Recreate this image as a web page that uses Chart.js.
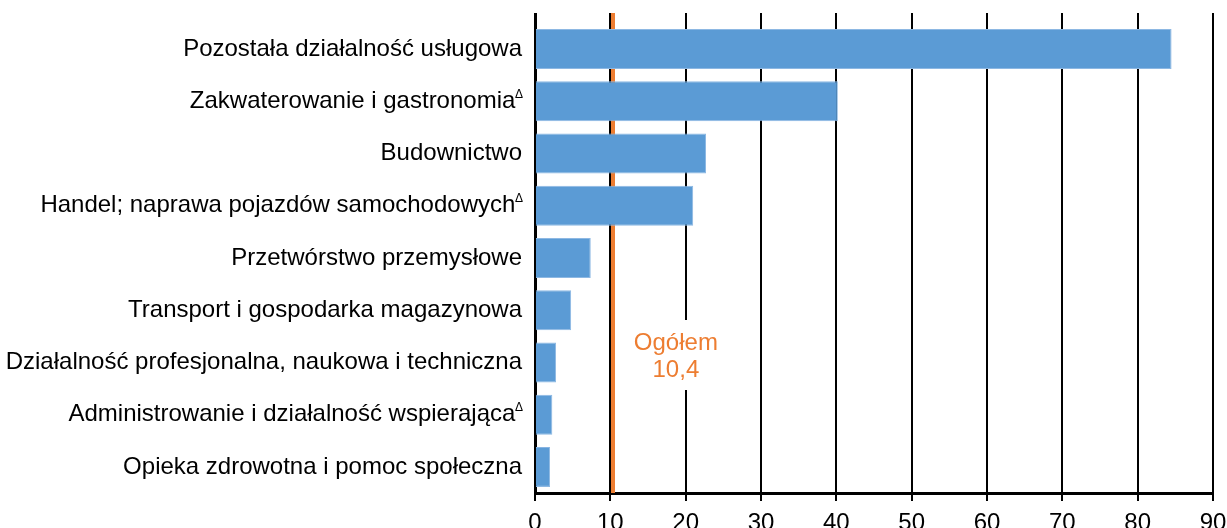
<!DOCTYPE html>
<html>
<head>
<meta charset="utf-8">
<script src="https://cdn.jsdelivr.net/npm/chart.js@4/dist/chart.umd.min.js"></script>
<style>
  html, body { margin: 0; padding: 0; background: #fff; overflow: hidden; }
  #wrap { width: 1227px; height: 545px; }
</style>
</head>
<body>
<div id="wrap"><canvas id="chart" width="1227" height="545"></canvas></div>
<script>
const categories = [
  'Pozostała działalność usługowa',
  'Zakwaterowanie i gastronomia',
  'Budownictwo',
  'Handel; naprawa pojazdów samochodowych',
  'Przetwórstwo przemysłowe',
  'Transport i gospodarka magazynowa',
  'Działalność profesjonalna, naukowa i techniczna',
  'Administrowanie i działalność wspierająca',
  'Opieka zdrowotna i pomoc społeczna'
];
const deltaMarked = [false, true, false, true, false, false, false, true, false];
const values = [84.5, 40.2, 22.7, 21.0, 7.4, 4.8, 2.8, 2.3, 2.0];
const overall = 10.4;
const overallLabel = ['Ogółem', '10,4'];
const xTicks = [0, 10, 20, 30, 40, 50, 60, 70, 80, 90];

const FONT = 'Arial, "Liberation Sans", sans-serif';
const ORANGE = '#ED7D31';
const GRID_OVERHANG = 10;

// same pixel snapping chart.js uses for its grid lines
function snap(px, w){
  return Math.round(px - w / 2) + w / 2;
}

// vertical line for the overall value + its label, gridlines run a bit above the bars
const overallPlugin = {
  id: 'overall',
  beforeDatasetsDraw(chart){
    const { ctx, chartArea, scales } = chart;
    const top = chartArea.top - GRID_OVERHANG;
    ctx.save();
    ctx.strokeStyle = '#000';
    ctx.lineCap = 'butt';
    xTicks.forEach(v => {
      const w = v === 0 ? 3 : 2;
      const gx = snap(scales.x.getPixelForValue(v), w);
      ctx.lineWidth = w;
      ctx.beginPath();
      ctx.moveTo(gx, top);
      ctx.lineTo(gx, chartArea.top + 2);
      ctx.stroke();
    });

    const x = snap(scales.x.getPixelForValue(overall), 4);
    ctx.strokeStyle = ORANGE;
    ctx.lineWidth = 4;
    ctx.beginPath();
    ctx.moveTo(x, top);
    ctx.lineTo(x, chartArea.bottom);
    ctx.stroke();

    const cx = scales.x.getPixelForValue(18.7);
    const cy = 355;
    ctx.fillStyle = '#fff';
    ctx.fillRect(cx - 46, cy - 35, 92, 70);
    ctx.fillStyle = ORANGE;
    ctx.font = '24px ' + FONT;
    ctx.textAlign = 'center';
    ctx.textBaseline = 'alphabetic';
    ctx.fillText(overallLabel[0], cx, cy - 5);
    ctx.fillText(overallLabel[1], cx, cy + 22);
    ctx.restore();
  }
};

// small superscript delta after some category names
const deltaPlugin = {
  id: 'delta',
  afterDraw(chart){
    const { ctx, scales } = chart;
    const y = scales.y;
    ctx.save();
    ctx.fillStyle = '#000';
    ctx.font = '12px ' + FONT;
    ctx.textAlign = 'left';
    ctx.textBaseline = 'middle';
    deltaMarked.forEach((m, i) => {
      if(!m) return;
      const py = y.getPixelForValue(i);
      ctx.fillText('\u0394', y.right - 20, py - 7);
    });
    ctx.restore();
  }
};

new Chart(document.getElementById('chart').getContext('2d'), {
  type: 'bar',
  data: {
    labels: categories,
    datasets: [{
      data: values,
      backgroundColor: '#5B9BD5',
      borderColor: '#8DB8E3',
      borderWidth: 1,
      categoryPercentage: 1,
      barPercentage: 0.766
    }]
  },
  options: {
    indexAxis: 'y',
    responsive: false,
    animation: false,
    layout: { padding: { top: 23, right: 14, left: 0, bottom: 0 } },
    plugins: {
      legend: { display: false },
      tooltip: { enabled: false }
    },
    scales: {
      x: {
        min: 0,
        max: 90,
        afterBuildTicks: s => { s.ticks = xTicks.map(v => ({ value: v })); },
        afterFit: s => {
          s.height = 52;
          s.paddingLeft = 0;
          s.paddingRight = 0;
        },
        grid: { color: '#000', lineWidth: 2, tickLength: 8, drawTicks: true },
        border: { color: '#000', width: 3 },
        ticks: { color: '#000', font: { family: FONT, size: 24 }, padding: 8 }
      },
      y: {
        afterFit: s => {
          s.width = 535;
          s.paddingTop = 0;
          s.paddingBottom = 0;
        },
        grid: { display: false },
        border: { color: '#000', width: 3 },
        ticks: {
          color: '#000',
          padding: 5,
          font: { family: FONT, size: 24 },
          callback: (v, i) => categories[i] + (deltaMarked[i] ? ' ' : '')
        }
      }
    }
  },
  plugins: [overallPlugin, deltaPlugin]
});
</script>
</body>
</html>
